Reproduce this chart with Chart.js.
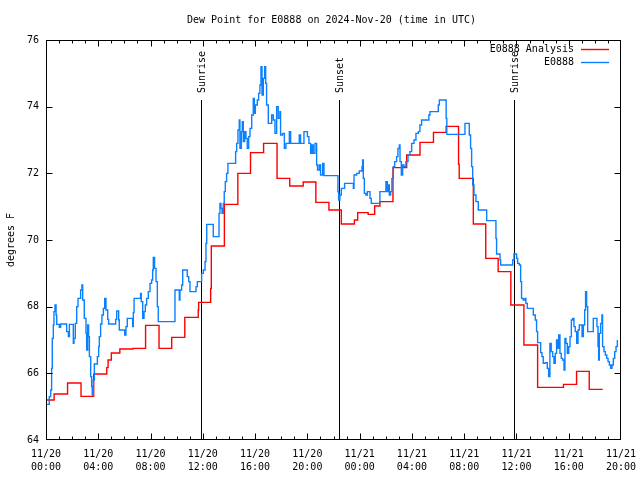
<!DOCTYPE html>
<html>
<head>
<meta charset="utf-8">
<script src="https://cdn.jsdelivr.net/npm/chart.js@4.4.1/dist/chart.umd.min.js"></script>
<style>
html, body { margin: 0; padding: 0; background: #fff; }
#wrap { width: 640px; height: 480px; }
</style>
</head>
<body>
<div id="wrap"><canvas id="chart" width="640" height="480"></canvas></div>
<script>
// hours since 2024-11-20 00:00 UTC
const titleText = 'Dew Point for E0888 on 2024-Nov-20 (time in UTC)';
const tickHours = [0, 4, 8, 12, 16, 20, 24, 28, 32, 36, 40, 44];
const tickDates = ['11/20', '11/20', '11/20', '11/20', '11/20', '11/20', '11/21', '11/21', '11/21', '11/21', '11/21', '11/21'];
const tickTimes = ['00:00', '04:00', '08:00', '12:00', '16:00', '20:00', '00:00', '04:00', '08:00', '12:00', '16:00', '20:00'];

const sunHours = [11.83, 22.45, 35.83];
const sunLabels = ['Sunrise', 'Sunset', 'Sunrise'];

// hourly analysis (step values)
const anaHours = [0, 0.62, 1.65, 2.68, 3.65, 4.65, 4.75, 5.0, 5.65, 6.65,
  7.62, 8.65, 9.62, 10.62, 11.65, 11.68, 12.6, 12.65, 13.65, 14.68,
  15.65, 16.65, 17.68, 18.65, 19.68, 20.65, 21.65, 22.6, 23.6, 23.85,
  24.65, 25.15, 25.55, 26.55, 27.6, 28.62, 29.65, 30.62, 31.57, 31.62,
  32.7, 33.65, 34.6, 35.57, 36.57, 37.62, 39.6, 40.6, 41.57, 42.6];
const anaDewpt = [65.2, 65.38, 65.71, 65.31, 65.98, 66.17, 66.4, 66.61, 66.73, 66.75,
  67.44, 66.75, 67.08, 67.68, 67.9, 68.13, 68.55, 69.82, 71.07, 72.0,
  72.62, 72.9, 71.85, 71.62, 71.74, 71.13, 70.9, 70.48, 70.6, 70.82,
  70.77, 71.02, 71.15, 72.17, 72.55, 72.93, 73.23, 73.41, 72.27, 71.85,
  70.48, 69.45, 69.05, 68.05, 66.85, 65.58, 65.67, 66.06, 65.52, 65.52];

// station observations
const obsHours = [
  0.0, 0.25, 0.36, 0.43, 0.48, 0.56, 0.61, 0.69, 0.77, 0.82,
  1.02, 1.12, 1.58, 1.71, 1.79, 2.09, 2.14, 2.24, 2.35, 2.45,
  2.65, 2.75, 2.81, 2.93, 3.06, 3.11, 3.19, 3.26, 3.32, 3.42,
  3.49, 3.54, 3.62, 3.7, 3.93, 4.03, 4.08, 4.18, 4.28, 4.39,
  4.49, 4.59, 4.72, 4.79, 5.33, 5.41, 5.56, 5.61, 6.02, 6.12,
  6.22, 6.63, 6.68, 6.74, 7.24, 7.29, 7.4, 7.5, 7.6, 7.7,
  7.83, 7.96, 8.08, 8.16, 8.21, 8.31, 8.42, 8.52, 8.59, 9.87,
  10.2, 10.25, 10.38, 10.46, 10.81, 10.92, 11.02, 11.48, 11.58, 11.91,
  12.04, 12.17, 12.24, 12.3, 12.8, 13.24, 13.31, 13.39, 13.47, 13.57,
  13.64, 13.72, 13.82, 13.92, 14.51, 14.59, 14.69, 14.79, 14.84, 14.95,
  15.02, 15.1, 15.2, 15.3, 15.4, 15.51, 15.61, 15.74, 15.86, 15.94,
  16.02, 16.17, 16.27, 16.37, 16.45, 16.53, 16.63, 16.73, 16.81, 16.88,
  17.01, 17.27, 17.39, 17.52, 17.65, 17.77, 17.9, 17.95, 18.1, 18.24,
  18.36, 18.62, 18.72, 19.38, 19.48, 19.74, 20.0, 20.12, 20.25, 20.35,
  20.45, 20.58, 20.71, 20.78, 20.91, 21.01, 21.17, 21.27, 22.34, 22.39,
  22.49, 22.6, 22.85, 23.52, 23.57, 23.77, 23.97, 24.18, 24.23, 24.28,
  24.36, 24.48, 24.59, 24.79, 24.89, 25.55, 26.01, 26.12, 26.22, 26.27,
  26.37, 26.47, 26.58, 26.68, 26.83, 26.93, 27.04, 27.09, 27.19, 27.29,
  27.39, 27.54, 27.7, 27.85, 27.98, 28.16, 28.31, 28.49, 28.61, 28.74,
  29.3, 29.38, 30.02, 30.1, 30.62, 30.67, 32.06, 32.39, 32.49, 32.57,
  32.65, 32.75, 32.9, 33.08, 33.72, 34.43, 34.48, 34.74, 34.79, 35.71,
  35.81, 36.01, 36.09, 36.22, 36.32, 36.39, 36.52, 36.65, 36.72, 36.83,
  37.29, 37.44, 37.54, 37.62, 37.85, 37.95, 38.05, 38.2, 38.36, 38.46,
  38.56, 38.66, 38.77, 38.87, 38.97, 39.07, 39.15, 39.23, 39.33, 39.43,
  39.53, 39.64, 39.71, 39.79, 39.89, 40.0, 40.1, 40.2, 40.3, 40.4,
  40.5, 40.61, 40.71, 40.81, 41.02, 41.12, 41.22, 41.29, 41.37, 41.45,
  41.88, 42.16, 42.24, 42.29, 42.34, 42.44, 42.54, 42.59, 42.7, 42.8,
  42.91, 43.01, 43.11, 43.21, 43.31, 43.41, 43.52, 43.62, 43.72];
const obsDewpt = [
  65.07, 65.3, 65.5, 66.15, 67.05, 67.45, 67.85, 68.05, 67.75, 67.47,
  67.38, 67.48, 67.25, 67.1, 67.47, 66.9, 67.05, 67.5, 68.0, 68.25,
  68.5, 68.65, 68.2, 67.65, 67.2, 66.7, 67.45, 67.1, 66.5, 65.9,
  65.6, 65.35, 65.8, 66.28, 66.5, 66.8, 67.1, 67.48, 67.75, 67.95,
  68.25, 67.9, 67.62, 67.48, 67.62, 67.87, 67.6, 67.3, 67.15, 67.4,
  67.65, 67.4, 67.82, 68.25, 68.4, 68.15, 67.65, 67.85, 68.05, 68.25,
  68.45, 68.7, 68.8, 69.1, 69.48, 69.15, 68.75, 68.0, 67.55, 68.5,
  68.2, 68.5, 68.65, 69.1, 68.9, 68.75, 68.45, 68.6, 68.75, 69.0,
  69.1, 69.35, 69.9, 70.47, 70.1, 70.8, 71.1, 70.95, 70.8, 71.1,
  71.45, 71.75, 72.0, 72.3, 72.65, 72.9, 73.3, 73.6, 72.75, 73.25,
  73.55, 72.95, 73.25, 73.05, 72.75, 73.1, 73.35, 73.75, 74.25, 73.8,
  74.05, 74.2, 74.4, 74.65, 75.2, 74.35, 74.85, 75.2, 74.7, 74.05,
  73.5, 73.75, 73.6, 73.2, 74.0, 73.65, 73.85, 73.15, 73.2, 72.75,
  72.9, 73.25, 72.9, 73.15, 72.9, 73.25, 73.1, 72.9, 72.6, 72.85,
  72.6, 72.9, 72.25, 72.1, 72.25, 71.95, 72.3, 71.93, 71.45, 71.2,
  71.35, 71.55, 71.7, 71.55, 71.95, 72.0, 72.07, 72.2, 72.4, 71.85,
  71.4, 71.35, 71.45, 71.25, 71.1, 71.45, 71.75, 71.45, 71.65, 71.35,
  71.45, 71.85, 72.2, 72.35, 72.5, 72.75, 72.85, 72.35, 71.95, 72.25,
  72.2, 72.35, 72.55, 72.65, 72.9, 73.0, 73.2, 73.25, 73.45, 73.6,
  73.75, 73.85, 74.05, 74.2, 73.65, 73.17, 73.5, 73.15, 72.75, 72.2,
  71.65, 71.35, 71.15, 70.9, 70.58, 70.05, 69.58, 69.4, 69.25, 69.4,
  69.58, 69.45, 69.3, 69.25, 68.75, 68.25, 68.2, 68.25, 68.1, 67.95,
  67.75, 67.6, 67.25, 66.92, 66.62, 66.5, 66.3, 66.32, 66.15, 65.9,
  66.9, 66.65, 66.5, 66.3, 66.6, 67.0, 66.75, 67.15, 66.6, 66.45,
  66.4, 66.1, 67.05, 66.9, 66.6, 66.8, 67.1, 67.6, 67.65, 67.4,
  67.25, 66.9, 67.3, 67.45, 67.1, 67.45, 67.9, 68.45, 68.0, 67.25,
  67.65, 67.4, 66.8, 66.4, 67.2, 67.5, 67.75, 66.8, 66.65, 66.55,
  66.45, 66.35, 66.25, 66.15, 66.25, 66.45, 66.65, 66.8, 67.0];

const FONT = '10px "DejaVu Sans Mono"';

// gnuplot style frame: inward ticks, sun markers, title, legend
const framePlugin = {
  id: 'frame',
  beforeDatasetsDraw(chart) {
    const { ctx, chartArea: a, scales: { x } } = chart;
    ctx.save();
    ctx.strokeStyle = '#000';
    ctx.fillStyle = '#000';
    ctx.lineWidth = 1;
    ctx.font = FONT;
    sunHours.forEach((h, i) => {
      const px = Math.round(x.getPixelForValue(h)) + 0.5;
      const top = a.top + 60;
      ctx.beginPath();
      ctx.moveTo(px, a.bottom);
      ctx.lineTo(px, top);
      ctx.stroke();
      ctx.save();
      ctx.translate(px + 1, top - 7);
      ctx.rotate(-Math.PI / 2);
      ctx.textAlign = 'left';
      ctx.textBaseline = 'middle';
      ctx.fillText(sunLabels[i], 0, 0);
      ctx.restore();
    });
    ctx.restore();
  },
  afterDraw(chart) {
    const { ctx, chartArea: a, scales: { x, y } } = chart;
    ctx.save();
    ctx.strokeStyle = '#000';
    ctx.fillStyle = '#000';
    ctx.lineWidth = 1;
    const L = a.left + 0.5, R = Math.round(a.right) - 0.5, T = a.top + 0.5, B = Math.round(a.bottom) - 0.5;
    ctx.strokeRect(L, T, R - L, B - T);
    ctx.beginPath();
    for (let h = 1; h < 44; h++) {
      const px = Math.round(x.getPixelForValue(h)) + 0.5;
      const len = h % 4 === 0 ? 6 : 3;
      ctx.moveTo(px, B); ctx.lineTo(px, B - len);
      ctx.moveTo(px, T); ctx.lineTo(px, T + len);
    }
    for (let v = 66; v < 76; v += 2) {
      const py = Math.round(y.getPixelForValue(v)) + 0.5;
      ctx.moveTo(L, py); ctx.lineTo(L + 6, py);
      ctx.moveTo(R, py); ctx.lineTo(R - 6, py);
    }
    ctx.stroke();

    ctx.font = FONT;
    ctx.textAlign = 'center';
    ctx.textBaseline = 'middle';
    ctx.fillText(titleText, (a.left + a.right) / 2 - 2, 20);

    ctx.textAlign = 'right';
    ctx.lineWidth = 1.4;
    chart.data.datasets.forEach((ds, i) => {
      const ly = a.top + 9.5 + i * 13;
      ctx.fillStyle = '#000';
      ctx.fillText(ds.label, a.right - 47, ly);
      ctx.strokeStyle = ds.borderColor;
      ctx.beginPath();
      ctx.moveTo(a.right - 40, ly);
      ctx.lineTo(a.right - 12, ly);
      ctx.stroke();
    });
    ctx.restore();
  }
};

const ctx = document.getElementById('chart').getContext('2d');
new Chart(ctx, {
  type: 'line',
  data: {
    datasets: [
      {
        label: 'E0888 Analysis',
        data: anaHours.map((h, i) => ({ x: h, y: anaDewpt[i] })),
        borderColor: '#ff0000',
        borderWidth: 1.4,
        pointRadius: 0,
        stepped: 'before',
        order: 1
      },
      {
        label: 'E0888',
        data: obsHours.map((h, i) => ({ x: h, y: obsDewpt[i] })),
        borderColor: '#0a80ff',
        borderWidth: 1.4,
        pointRadius: 0,
        stepped: 'before',
        order: 0
      }
    ]
  },
  options: {
    responsive: false,
    animation: false,
    layout: { padding: { top: 40, right: 19, left: 0, bottom: 0 } },
    plugins: {
      legend: { display: false },
      tooltip: { enabled: false },
      title: { display: false }
    },
    scales: {
      x: {
        type: 'linear',
        min: 0,
        max: 44,
        grid: { display: false, drawTicks: false },
        border: { display: false },
        ticks: {
          stepSize: 4,
          autoSkip: false,
          maxRotation: 0,
          padding: 8,
          color: '#000',
          font: { family: 'DejaVu Sans Mono', size: 10, lineHeight: 1.3 },
          callback: function(v) {
            const i = tickHours.indexOf(v);
            return i < 0 ? '' : [tickDates[i], tickTimes[i]];
          }
        },
        afterFit: function(s) { s.height = 40; s.paddingLeft = 0; s.paddingRight = 0; }
      },
      y: {
        min: 64,
        max: 76,
        grid: { display: false, drawTicks: false },
        border: { display: false },
        ticks: {
          stepSize: 2,
          padding: 7,
          color: '#000',
          font: { family: 'DejaVu Sans Mono', size: 10 }
        },
        title: {
          display: true,
          text: 'degrees F',
          color: '#000',
          padding: { top: 5, bottom: 0 },
          font: { family: 'DejaVu Sans Mono', size: 10 }
        },
        afterFit: function(s) { s.width = 46; s.paddingTop = 0; s.paddingBottom = 0; }
      }
    }
  },
  plugins: [framePlugin]
});
</script>
</body>
</html>
